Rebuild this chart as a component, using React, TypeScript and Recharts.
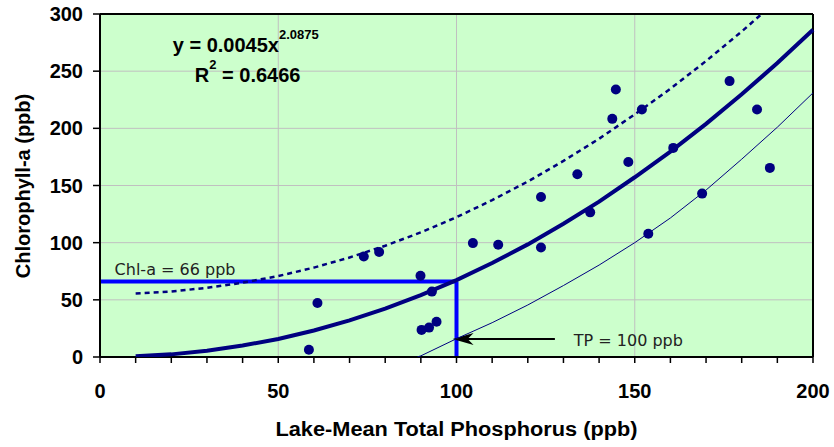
import React from 'react';
import { ScatterChart, Scatter, XAxis, YAxis, CartesianGrid, ReferenceLine, ReferenceDot } from 'recharts';

// observed lakes: lake-mean TP (ppb) and chlorophyll-a (ppb)
const tpObserved = [58.6, 61.0, 74.0, 78.3, 89.9, 93.1, 90.2, 92.3, 94.4, 104.6, 111.7, 123.7, 123.7, 133.9, 137.5, 143.7, 144.7, 148.2, 152.0, 153.8, 160.8, 168.9, 176.6, 184.3, 187.9];
const chlObserved = [6.4, 47.3, 87.9, 91.8, 71.0, 57.2, 23.7, 25.7, 30.9, 99.6, 98.2, 95.8, 140.0, 159.8, 126.5, 208.3, 234.0, 170.6, 216.5, 107.8, 182.9, 142.9, 241.3, 216.5, 165.4];

// power fit curve
const fitTp = [10, 20, 30, 40, 50, 60, 70, 80, 90, 100, 110, 120, 130, 140, 150, 160, 170, 180, 190, 200];
const fitChl = [0.6, 2.3, 5.5, 10.0, 15.8, 23.2, 32.0, 42.3, 54.1, 67.3, 82.2, 98.5, 116.5, 135.9, 157.2, 179.6, 203.9, 229.8, 257.1, 286.2];

// upper band (dashed)
const upperTp = [10, 20, 30, 40, 50, 60, 70, 80, 90, 100, 110, 120, 130, 140, 150, 160, 170, 180, 190];
const upperChl = [55.6, 57.3, 60.5, 65.0, 70.8, 78.2, 87.0, 97.3, 109.0, 122.3, 137.2, 153.5, 171.5, 190.9, 212.2, 234.6, 258.9, 284.7, 312.0];

// lower band (thin)
const lowerTp = [89, 90, 100, 110, 120, 130, 140, 150, 160, 170, 180, 190, 200];
const lowerChl = [0, 1, 16, 30, 45.5, 62.5, 80.4, 100, 121.6, 146, 173, 201, 231];

const xTicks = [0, 10, 20, 30, 40, 50, 60, 70, 80, 90, 100, 110, 120, 130, 140, 150, 160, 170, 180, 190, 200];
const xGrid = [0, 50, 100, 150, 200];
const yTicks = [0, 50, 100, 150, 200, 250, 300];

const targetTp = 100;
const targetChl = 66;

const toPoints = (xs: number[], ys: number[]) => xs.map((x, i) => ({ x, y: ys[i] }));

const NAVY = '#000080';
const BLUE = '#0000ff';
const FONT = '"Liberation Sans", Arial, sans-serif';

const noDot = () => <g />;
const dot = (p: any) => <circle cx={p.cx} cy={p.cy} r={5} fill={NAVY} />;

const arrowShape = (p: any) => {
  const tipX = Math.min(p.x1, p.x2);
  const tailX = Math.max(p.x1, p.x2);
  const y = p.y1;
  return (
    <g>
      <line x1={tailX} y1={y} x2={tipX + 14} y2={y} stroke="#000" strokeWidth={2} />
      <polygon points={`${tipX},${y} ${tipX + 21},${y - 6} ${tipX + 15},${y} ${tipX + 21},${y + 6}`} fill="#000" />
    </g>
  );
};

const noteText = (label: string) => (p: any) => (
  <text x={p.cx} y={p.cy} fontFamily='"DejaVu Sans", sans-serif' fontSize={16} fill="#222">
    {label}
  </text>
);

const eqLine1 = (p: any) => (
  <text x={p.cx} y={p.cy} fontFamily={FONT} fontSize={20} fontWeight="bold" fill="#000">
    y = 0.0045x<tspan fontSize={13} dy={-13}>2.0875</tspan>
  </text>
);

const eqLine2 = (p: any) => (
  <text x={p.cx} y={p.cy} fontFamily={FONT} fontSize={20} fontWeight="bold" fill="#000">
    R<tspan fontSize={13} dy={-13}>2</tspan>
    <tspan fontSize={20} dy={13}> = 0.6466</tspan>
  </text>
);

export default function App() {
  const tickStyle = { fill: '#000', fontSize: 20, fontWeight: 'bold', fontFamily: FONT };
  return (
    <div style={{ position: 'absolute', left: 0, top: 0, width: 834, height: 447, background: '#fff' }}>
      <ScatterChart width={834} height={447} margin={{ top: 14, right: 21, bottom: 0, left: 0 }}>
        <CartesianGrid stroke="#c0c0c0" fill="#ccffcc" fillOpacity={1} verticalValues={xGrid} horizontalValues={yTicks} />
        <XAxis
          type="number"
          dataKey="x"
          domain={[0, 200]}
          ticks={xTicks}
          interval={0}
          height={90}
          tickSize={6}
          tickMargin={21}
          tickFormatter={(v: number) => (v % 50 === 0 ? String(v) : '')}
          axisLine={{ stroke: '#000', strokeWidth: 2 }}
          tickLine={{ stroke: '#000', strokeWidth: 1.5 }}
          tick={tickStyle}
        />
        <YAxis
          type="number"
          dataKey="y"
          domain={[0, 300]}
          ticks={yTicks}
          interval={0}
          width={100}
          tickSize={7}
          tickMargin={10}
          allowDataOverflow
          axisLine={{ stroke: '#000', strokeWidth: 2 }}
          tickLine={{ stroke: '#000', strokeWidth: 1.5 }}
          tick={tickStyle}
        />
        <ReferenceLine y={300} stroke="#000" strokeWidth={2} />
        <ReferenceLine x={200} stroke="#000" strokeWidth={2} />

        <Scatter data={toPoints(upperTp, upperChl)} shape={noDot} line={{ stroke: NAVY, strokeWidth: 2.5, strokeDasharray: '5 4' }} lineType="joint" isAnimationActive={false} />
        <Scatter data={toPoints(lowerTp, lowerChl)} shape={noDot} line={{ stroke: NAVY, strokeWidth: 1 }} lineType="joint" isAnimationActive={false} />
        <Scatter data={toPoints(fitTp, fitChl)} shape={noDot} line={{ stroke: NAVY, strokeWidth: 4 }} lineType="joint" isAnimationActive={false} />
        <Scatter data={toPoints(tpObserved, chlObserved)} shape={dot} isAnimationActive={false} />

        <ReferenceLine segment={[{ x: 0, y: targetChl }, { x: targetTp, y: targetChl }]} stroke={BLUE} strokeWidth={4} />
        <ReferenceLine segment={[{ x: targetTp, y: 0 }, { x: targetTp, y: targetChl }]} stroke={BLUE} strokeWidth={4} />
        <ReferenceLine segment={[{ x: 127.6, y: 15.8 }, { x: 98.9, y: 15.8 }]} shape={arrowShape} />

        <ReferenceDot x={4.1} y={71.9} r={0} shape={noteText('Chl-a = 66 ppb')} />
        <ReferenceDot x={132.9} y={9.6} r={0} shape={noteText('TP = 100 ppb')} />
        <ReferenceDot x={20.4} y={266.4} r={0} shape={eqLine1} />
        <ReferenceDot x={26.6} y={240.1} r={0} shape={eqLine2} />
      </ScatterChart>
      <svg width={834} height={447} style={{ position: 'absolute', left: 0, top: 0, pointerEvents: 'none' }}>
        <text x={30} y={186} transform="rotate(-90 30 186)" textAnchor="middle" fontFamily={FONT} fontSize={20} fontWeight="bold" fill="#000">
          Chlorophyll-a (ppb)
        </text>
        <text x={456.5} y={436} textAnchor="middle" fontFamily={FONT} fontSize={20} fontWeight="bold" fill="#000" textLength={362} lengthAdjust="spacingAndGlyphs">
          Lake-Mean Total Phosphorus (ppb)
        </text>
      </svg>
    </div>
  );
}
